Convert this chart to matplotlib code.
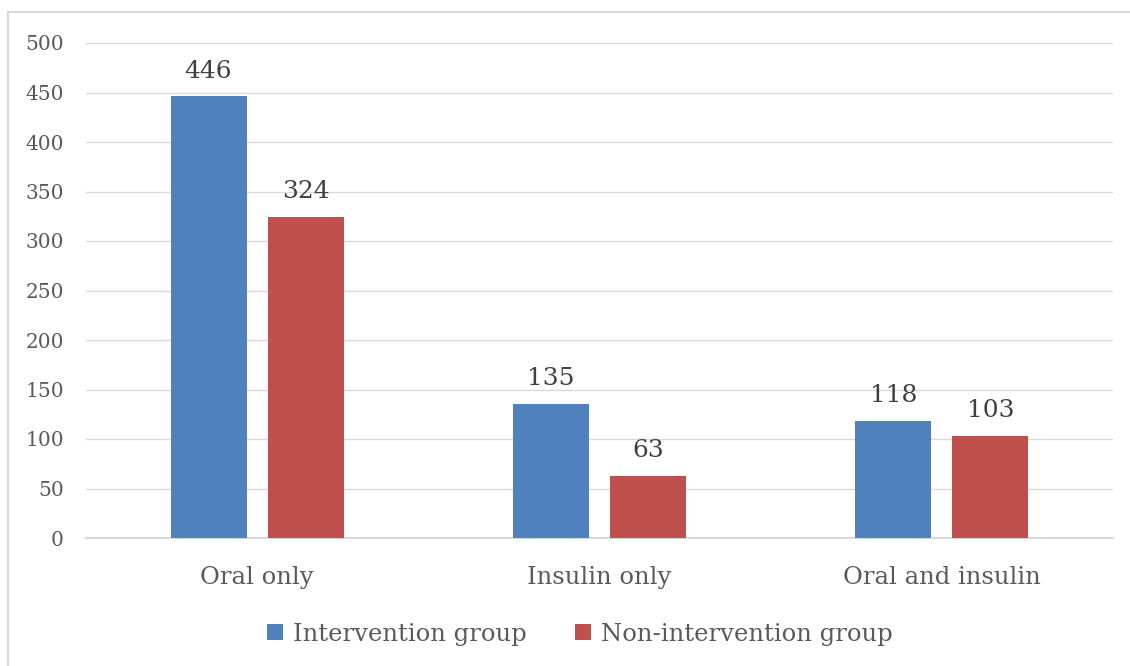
import matplotlib.pyplot as plt
from matplotlib.patches import Rectangle
import numpy as np

categories = ['Oral only', 'Insulin only', 'Oral and insulin']
intervention = [446, 135, 118]
non_intervention = [324, 63, 103]
series_names = ['Intervention group', 'Non-intervention group']
yticks = [0, 50, 100, 150, 200, 250, 300, 350, 400, 450, 500]

blue = '#4F81BD'
red = '#C0504D'
grid_col = '#D9D9D9'
txt_col = '#595959'

plt.rcParams['font.family'] = ['DejaVu Serif']

fig = plt.figure(figsize=(11.3, 6.66), dpi=100)
ax = fig.add_axes([86/1130, 1-538/666, (1113-86)/1130, (538-43)/666])

x = np.arange(len(categories))
bw = 0.222
off = 0.142
b1 = ax.bar(x - off, intervention, bw, color=blue, label=series_names[0], zorder=3)
b2 = ax.bar(x + off, non_intervention, bw, color=red, label=series_names[1], zorder=3)

for bars, vals in [(b1, intervention), (b2, non_intervention)]:
    for b, v in zip(bars, vals):
        ax.annotate(str(v), (b.get_x() + b.get_width()/2, v), xytext=(0, 10),
                    textcoords='offset points', ha='center', va='bottom',
                    fontsize=18, color='#404040')

ax.set_xlim(-0.5, 2.5)
ax.set_ylim(0, 500)
ax.set_yticks(yticks)
ax.set_xticks(x)
ax.set_xticklabels(categories)
ax.yaxis.grid(True, color=grid_col, linewidth=1.0, zorder=0)
ax.set_axisbelow(True)
for s in ['top', 'right', 'left']:
    ax.spines[s].set_visible(False)
ax.spines['bottom'].set_color(grid_col)
ax.spines['bottom'].set_linewidth(1.5)
ax.tick_params(axis='y', length=0, pad=16, labelsize=14.5, labelcolor=txt_col)
ax.tick_params(axis='x', length=0, pad=20, labelsize=17.5, labelcolor=txt_col)

fig.legend(handles=[b1, b2], labels=series_names, loc='center',
           bbox_to_anchor=(580/1130, 1-634/666), ncol=2, frameon=False,
           fontsize=17.5, labelcolor=txt_col, handlelength=0.65, handleheight=0.65,
           handletextpad=0.4, columnspacing=2.0)

# outer chart border (only left and top edges visible in the crop)
fig.patches.append(Rectangle((8/1130, -0.1), 1.2, 1.1 - 12/666,
                             transform=fig.transFigure, fill=False,
                             edgecolor=grid_col, linewidth=1.5))

fig.savefig('out.png', dpi=100)
